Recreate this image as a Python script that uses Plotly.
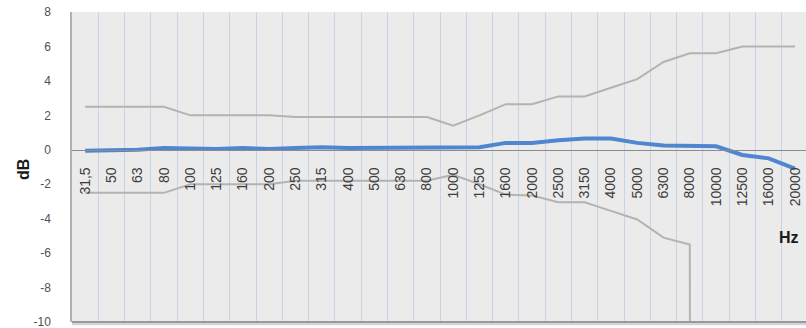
import plotly.graph_objects as go

# Third-octave band centre frequencies (Hz)
bands = ["31,5", "50", "63", "80", "100", "125", "160", "200", "250", "315",
         "400", "500", "630", "800", "1000", "1250", "1600", "2000", "2500",
         "3150", "4000", "5000", "6300", "8000", "10000", "12500", "16000",
         "20000"]

# Measured frequency response (dB)
response = [-0.05, -0.05, 0.0, 0.1, 0.05, 0.05, 0.1, 0.05, 0.1, 0.15,
            0.1, 0.1, 0.1, 0.15, 0.15, 0.15, 0.4, 0.4, 0.55, 0.65,
            0.65, 0.4, 0.25, 0.2, 0.2, -0.3, -0.5, -1.1]

# Upper tolerance limit (dB)
upper_limit = [2.5, 2.5, 2.5, 2.5, 2.0, 2.0, 2.0, 2.0, 1.9, 1.9,
               1.9, 1.9, 1.9, 1.9, 1.4, 2.0, 2.65, 2.65, 3.1, 3.1,
               3.6, 4.1, 5.1, 5.6, 5.6, 6.0, 6.0, 6.0]

# Lower tolerance limit (dB); effectively unbounded from 10 kHz upwards
lower_limit = [-2.5, -2.5, -2.5, -2.5, -2.0, -2.0, -2.0, -2.0, -1.8, -1.8,
               -1.8, -1.8, -1.8, -1.8, -1.45, -2.0, -2.6, -2.65, -3.05, -3.05,
               -3.55, -4.05, -5.1, -5.5, -1000, None, None, None]

y_ticks = [8, 6, 4, 2, 0, -2, -4, -6, -8, -10]
y_tick_text = ["8", "6", "4", "2", "0", "-2", "-4", "-6", "-8", "-10"]

GREY = "#b3b3b3"
BLUE = "#4f86cf"

fig = go.Figure()
fig.add_trace(go.Scatter(x=bands, y=upper_limit, mode="lines",
                         line=dict(color=GREY, width=2), hoverinfo="skip"))
fig.add_trace(go.Scatter(x=bands, y=lower_limit, mode="lines",
                         line=dict(color=GREY, width=2), connectgaps=False,
                         hoverinfo="skip"))
fig.add_trace(go.Scatter(x=bands, y=response, mode="lines",
                         line=dict(color=BLUE, width=4)))

fig.update_layout(
    width=806, height=328,
    margin=dict(l=72, r=0, t=12, b=6),
    paper_bgcolor="white",
    plot_bgcolor="#ebebeb",
    showlegend=False,
    xaxis=dict(
        type="category",
        categoryorder="array", categoryarray=bands,
        range=[-0.5, 27.42],
        tickson="boundaries",
        showgrid=True, gridcolor="#c8d4e6", gridwidth=1,
        ticks="",
        tickangle=-90,
        ticklabelstandoff=11,
        tickfont=dict(family="Liberation Sans", size=14, color="#3c3c3c"),
        anchor="free", position=10 / 18,
        showline=True, linecolor="#8c8c8c", linewidth=1,
        zeroline=False,
    ),
    yaxis=dict(
        range=[-10.0, 8.0],
        tickvals=y_ticks,
        ticktext=y_tick_text,
        ticklabeloverflow="allow",
        showgrid=False, zeroline=False,
        showline=True, linecolor="#b0b0b0", linewidth=1.5,
        ticks="",
        ticklabelstandoff=17,
        tickfont=dict(family="Liberation Sans", size=12, color="#505050"),
    ),
    shapes=[
        dict(type="line", xref="paper", yref="paper", x0=0, x1=1, y0=-0.006,
             y1=-0.006, line=dict(color="#d4d4d4", width=3)),
        dict(type="line", xref="paper", yref="paper", x0=0, x1=1, y0=0,
             y1=0, line=dict(color="#9a9a9a", width=2)),
    ],
    annotations=[
        dict(text="<b>dB</b>", xref="paper", yref="paper",
             x=(23 - 72) / 734, y=(322 - 170) / 310, textangle=-90,
             showarrow=False, xanchor="center", yanchor="middle",
             font=dict(family="Liberation Sans", size=16, color="#1a1a1a")),
        dict(text="<b>Hz</b>", xref="paper", yref="paper",
             x=(789 - 72) / 734, y=(322 - 237) / 310,
             showarrow=False, xanchor="center", yanchor="middle",
             font=dict(family="Liberation Sans", size=16, color="#1a1a1a")),
    ],
)

fig.write_html("out.html")
